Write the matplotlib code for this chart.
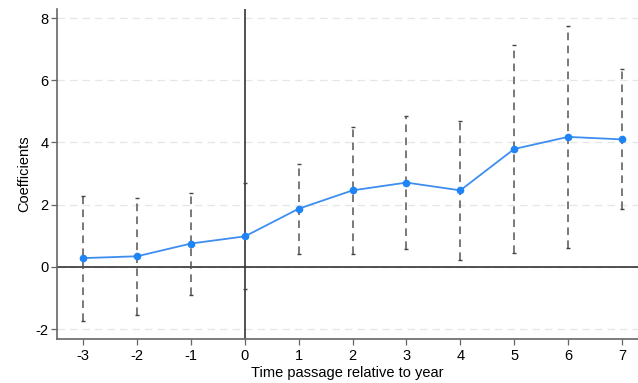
import numpy as np
import matplotlib
matplotlib.use("Agg")
import matplotlib.pyplot as plt

plt.rcParams['font.family'] = ['Liberation Sans', 'DejaVu Sans']
plt.rcParams['axes.unicode_minus'] = False

# Event-study coefficients with 95% CI
periods = [-3, -2, -1, 0, 1, 2, 3, 4, 5, 6, 7]
coefs = [0.28, 0.34, 0.75, 0.98, 1.87, 2.46, 2.71, 2.46, 3.79, 4.18, 4.10]
ci_low = [-1.74, -1.55, -0.92, -0.72, 0.42, 0.42, 0.57, 0.22, 0.44, 0.60, 1.86]
ci_high = [2.28, 2.23, 2.39, 2.69, 3.31, 4.51, 4.86, 4.68, 7.15, 7.76, 6.36]
yticks = [-2, 0, 2, 4, 6, 8]

fig = plt.figure(figsize=(6.38, 3.83), dpi=100)
ax = fig.add_axes([0.0893, 0.115, 0.9107, 0.862])

# light dashed horizontal grid
for t in yticks:
    ax.axhline(t, color='#e6e6e6', lw=0.9, ls=(0, (6, 4)), zorder=0)

# reference lines
ax.axhline(0, color='#333333', lw=1.2, zorder=1)
ax.axvline(0, color='#333333', lw=1.2, zorder=1)

# confidence intervals (dashed with small caps)
x = np.array(periods)
lo = np.array(ci_low)
hi = np.array(ci_high)
ax.vlines(x, lo, hi, colors='#555555', lw=1.1, linestyles=(0, (5, 3.5)), zorder=2)
ax.scatter(x, lo, marker='_', s=12, color='#444444', lw=1.0, zorder=2)
ax.scatter(x, hi, marker='_', s=12, color='#444444', lw=1.0, zorder=2)

# point estimates
ax.plot(periods, coefs, color='#3d8ef0', lw=1.3, marker='o', ms=4.5,
        markerfacecolor='#1f84f5', markeredgecolor='#1f84f5', zorder=3)

ax.set_xlim(-3.49, 7.3)
ax.set_ylim(-2.32, 8.3)
ax.set_xticks(periods)
ax.set_yticks(yticks)
ax.tick_params(axis='both', labelsize=10.5, color='#666666', length=4, width=0.9)
ax.tick_params(axis='y', pad=2)
ax.set_xlabel('Time passage relative to year', fontsize=10.5, labelpad=2)
ax.set_ylabel('Coefficients', fontsize=10.5, labelpad=3)

for side in ['top', 'right']:
    ax.spines[side].set_visible(False)
for side in ['left', 'bottom']:
    ax.spines[side].set_color('#666666')
    ax.spines[side].set_linewidth(1.2)

fig.savefig('out.png', dpi=100)
